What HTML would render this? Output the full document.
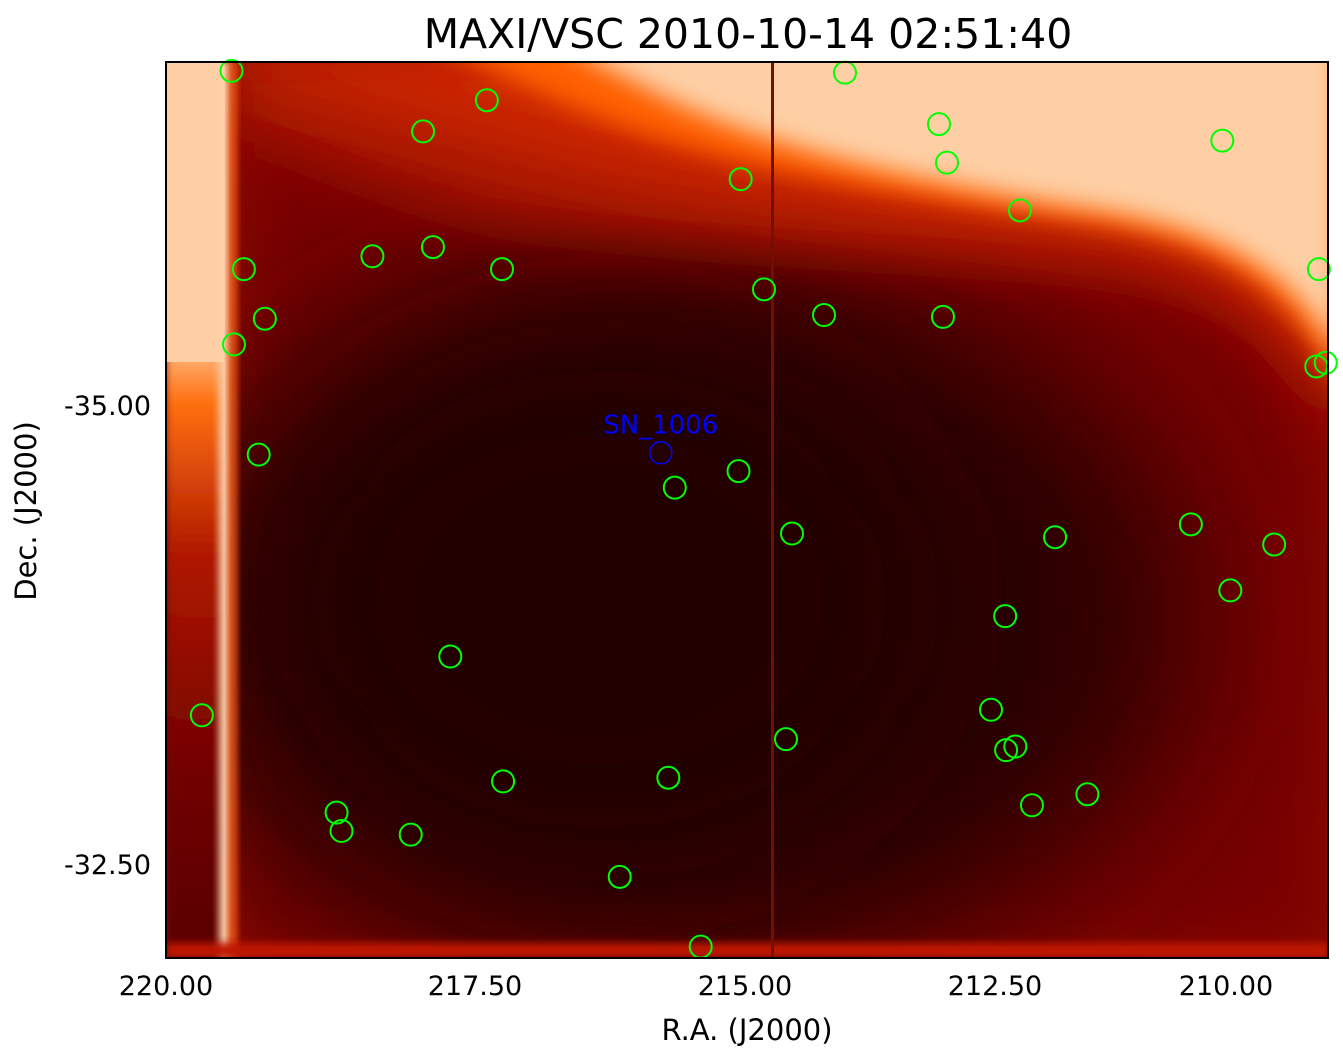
<!DOCTYPE html>
<html><head><meta charset="utf-8"><style>
body{margin:0;background:#fff;}
svg{display:block;font-family:"DejaVu Sans","Liberation Sans",sans-serif;}
</style></head><body>
<svg id="chart" width="1343" height="1061" viewBox="0 0 1343 1061" xmlns="http://www.w3.org/2000/svg">
<defs>
<clipPath id="pc"><rect x="166" y="62" width="1162" height="896"/></clipPath>
<filter id="b80" x="-50%" y="-50%" width="200%" height="200%"><feGaussianBlur stdDeviation="80"/></filter>
<filter id="b30" x="-50%" y="-50%" width="200%" height="200%"><feGaussianBlur stdDeviation="30"/></filter>
<filter id="b12" x="-50%" y="-50%" width="200%" height="200%"><feGaussianBlur stdDeviation="12"/></filter>
<filter id="b4" x="-50%" y="-50%" width="200%" height="200%"><feGaussianBlur stdDeviation="4"/></filter>
<linearGradient id="leftg" x1="0" y1="0" x2="0" y2="1">
<stop offset="0" stop-color="#fecfa4"/><stop offset="0.3" stop-color="#fecfa4"/><stop offset="0.38" stop-color="#ff7010"/><stop offset="0.55" stop-color="#b01800"/><stop offset="0.8" stop-color="#700000"/><stop offset="1" stop-color="#580000"/></linearGradient>
</defs>
<text x="748" y="48" font-size="41" text-anchor="middle" fill="#000">MAXI/VSC 2010-10-14 02:51:40</text>
<g clip-path="url(#pc)">
<rect x="166" y="62" width="1162" height="896" fill="#8e0c00"/>
<path d="M240,62 L1328,62 L1328,958 L240,958 Z" fill="#7a0500" filter="url(#b30)"/>
<ellipse cx="680" cy="620" rx="520" ry="360" fill="#2c0000" filter="url(#b80)"/>
<ellipse cx="600" cy="600" rx="320" ry="260" fill="#220000" filter="url(#b80)"/>
<path d="M235,62 L1340,62 L1340,460 C1300,340 1240,290 1100,270 C900,250 700,250 500,220 C380,190 300,150 235,130 Z" fill="#a81200" filter="url(#b30)"/>
<path d="M235,40 L1340,40 L1340,420 C1300,320 1240,260 1100,240 C900,215 700,200 520,150 C400,120 300,90 235,80 Z" fill="#cc2800" filter="url(#b30)"/>
<path d="M420,40 L1340,40 L1340,400 C1300,300 1240,250 1100,225 C900,195 720,170 580,110 C520,85 470,60 420,40 Z" fill="#ff6000" filter="url(#b12)"/>
<path d="M560,40 L1340,40 L1340,360 C1305,290 1250,235 1100,210 C900,180 740,140 640,85 C600,65 580,55 560,40 Z" fill="#fecfa4" filter="url(#b12)"/>
<rect x="166" y="62" width="60" height="896" fill="url(#leftg)" filter="url(#b4)"/>
<rect x="166" y="62" width="58" height="300" fill="#fecfa4"/>
<rect x="219" y="62" width="13" height="896" fill="#fed2ac" filter="url(#b4)"/>
<rect x="229" y="62" width="8" height="896" fill="#e04000" filter="url(#b4)"/>
<rect x="166" y="943" width="1162" height="15" fill="#c01800" filter="url(#b4)"/>
<rect x="771" y="62" width="3" height="896" fill="#701000"/>
</g>
<g id="circles"></g>
<rect x="166" y="62" width="1162" height="896" fill="none" stroke="#000" stroke-width="2"/>
<g id="axes"></g>
<text x="747" y="1040" font-size="29" text-anchor="middle">R.A. (J2000)</text>
<text transform="translate(36,511) rotate(-90)" font-size="29" text-anchor="middle">Dec. (J2000)</text>
</svg>
<script>
const raTicks=[220,217.5,215,212.5,210];
const raTickLabels=["220.00","217.50","215.00","212.50","210.00"];
const decTicks=[-35,-32.5];
const decTickLabels=["-35.00","-32.50"];
const srcRA=[219.47,217.39,217.92,214.00,213.06,212.98,210.04,215.04,212.23,219.37,218.33,217.84,217.25,214.81,219.20,214.21,213.02,208.92,219.45,208.95,208.84,219.25,215.06,215.65,214.53,211.85,210.38,209.44,209.95,212.39,217.70,219.71,212.54,214.59,212.28,212.38,215.71,217.24,211.50,212.10,218.62,218.58,218.02,216.16,215.41];
const srcDec=[-36.82,-36.66,-36.49,-36.81,-36.53,-36.32,-36.44,-36.23,-36.06,-35.74,-35.81,-35.86,-35.74,-35.63,-35.47,-35.49,-35.48,-35.74,-35.33,-35.21,-35.23,-34.73,-34.64,-34.55,-34.30,-34.28,-34.35,-34.24,-33.99,-33.85,-33.63,-33.31,-33.34,-33.18,-33.14,-33.12,-32.97,-32.95,-32.88,-32.82,-32.78,-32.68,-32.66,-32.43,-32.05];
const targetName=["SN_1006"];
const targetRA=[215.78];
const targetDec=[-34.74];
const raPx=[166,475,745,995,1226];
function xOf(ra){
  const n=raTicks.length;
  for(let i=0;i<n-1;i++){ if(ra<=raTicks[i]&&ra>=raTicks[i+1]){return raPx[i]+(raTicks[i]-ra)/(raTicks[i]-raTicks[i+1])*(raPx[i+1]-raPx[i]);} }
  if(ra>raTicks[0]) return raPx[0]-(ra-raTicks[0])/2.5*(raPx[1]-raPx[0]);
  return raPx[n-1]+(raTicks[n-1]-ra)/2.5*215;
}
function yOf(d){return 405+(d+35)/2.5*459;}
const NS="http://www.w3.org/2000/svg";
const cg=document.getElementById('circles');
for(let i=0;i<srcRA.length;i++){
  const c=document.createElementNS(NS,'circle');
  c.setAttribute('cx',xOf(srcRA[i]));c.setAttribute('cy',yOf(srcDec[i]));c.setAttribute('r',11);
  c.setAttribute('fill','none');c.setAttribute('stroke','#00ff00');c.setAttribute('stroke-width','2');
  
  
  cg.appendChild(c);
}
for(let i=0;i<targetRA.length;i++){
  const c=document.createElementNS(NS,'circle');
  c.setAttribute('cx',xOf(targetRA[i]));c.setAttribute('cy',yOf(targetDec[i]));c.setAttribute('r',11);
  c.setAttribute('fill','none');c.setAttribute('stroke','#0000ff');c.setAttribute('stroke-width','1.5');
  
  
  cg.appendChild(c);
  const t=document.createElementNS(NS,'text');
  t.setAttribute('x',xOf(targetRA[i]));t.setAttribute('y',yOf(targetDec[i])-19);
  t.setAttribute('text-anchor','middle');t.setAttribute('font-size','26');t.setAttribute('fill','#0000ff');
  t.textContent=targetName[i];
  
  
  cg.appendChild(t);
}
const ag=document.getElementById('axes');
for(let i=0;i<raTicks.length;i++){
  const t=document.createElementNS(NS,'text');
  t.setAttribute('x',xOf(raTicks[i]));t.setAttribute('y',995);t.setAttribute('text-anchor','middle');t.setAttribute('font-size','27');
  t.textContent=raTickLabels[i];
  
  
  ag.appendChild(t);
}
for(let i=0;i<decTicks.length;i++){
  const t=document.createElementNS(NS,'text');
  t.setAttribute('x',151);t.setAttribute('y',yOf(decTicks[i])+10);t.setAttribute('text-anchor','end');t.setAttribute('font-size','27');
  t.textContent=decTickLabels[i];
  
  
  ag.appendChild(t);
}
</script>
</body></html>
